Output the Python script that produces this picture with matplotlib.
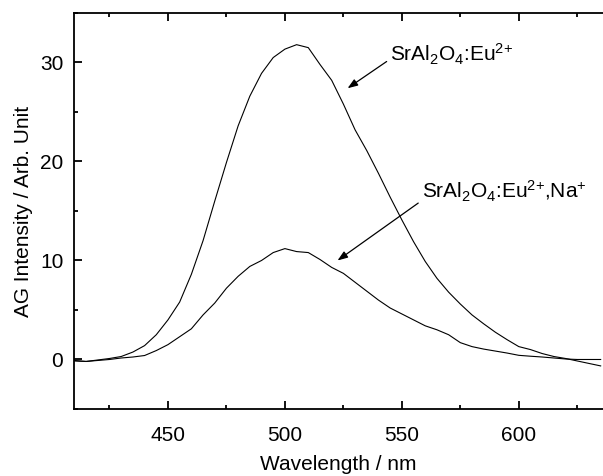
import numpy as np
import matplotlib
matplotlib.use('Agg')
import matplotlib.pyplot as plt
from matplotlib.ticker import MultipleLocator

plt.rcParams['font.family'] = ['Liberation Sans', 'DejaVu Sans']
plt.rcParams['mathtext.fontset'] = 'custom'
plt.rcParams['mathtext.rm'] = 'Liberation Sans'
plt.rcParams['mathtext.it'] = 'Liberation Sans:italic'

# wavelength grid (nm)
wavelength = np.arange(410, 640, 5)

# SrAl2O4:Eu2+
eu = [-0.15, -0.2, -0.05, 0.1, 0.3, 0.75, 1.4, 2.5, 4.0, 5.8,
      8.6, 12.0, 16.0, 19.9, 23.6, 26.6, 28.9, 30.5, 31.35, 31.8,
      31.5, 29.8, 28.2, 25.8, 23.2, 21.1, 18.8, 16.4, 14.1, 11.9,
      9.9, 8.2, 6.8, 5.6, 4.5, 3.6, 2.75, 2.0, 1.3, 1.0,
      0.6, 0.3, 0.1, -0.15, -0.4, -0.65]

# SrAl2O4:Eu2+,Na+
eu_na = [-0.1, -0.2, -0.1, 0.0, 0.15, 0.25, 0.4, 0.9, 1.5, 2.3,
         3.1, 4.5, 5.7, 7.2, 8.4, 9.4, 10.0, 10.8, 11.2, 10.9,
         10.8, 10.1, 9.3, 8.7, 7.8, 6.9, 6.0, 5.2, 4.6, 4.0,
         3.4, 3.0, 2.5, 1.7, 1.3, 1.05, 0.85, 0.65, 0.42, 0.33,
         0.25, 0.15, 0.05, 0.0, 0.0, 0.0]

label_eu = r'SrAl$_2$O$_4$:Eu$^{2{+}}$'
label_na = r'SrAl$_2$O$_4$:Eu$^{2{+}}$,Na$^{{+}}$'

fig = plt.figure(figsize=(6.03, 4.76), dpi=100)
ax = fig.add_axes([0.1234, 0.1408, 0.8766, 0.8319])

ax.plot(wavelength, eu, color='black', lw=0.8)
ax.plot(wavelength, eu_na, color='black', lw=0.8)

ax.set_xlim(410, 636)
ax.set_ylim(-5, 35)

ax.xaxis.set_major_locator(MultipleLocator(50))
ax.xaxis.set_minor_locator(MultipleLocator(25))
ax.yaxis.set_major_locator(MultipleLocator(10))
ax.yaxis.set_minor_locator(MultipleLocator(5))

ax.spines['right'].set_visible(False)
for s in ['left', 'bottom', 'top']:
    ax.spines[s].set_linewidth(1.3)

ax.tick_params(which='both', direction='in', top=True, right=False, width=1.3)
ax.tick_params(which='major', length=5.5)
ax.tick_params(which='minor', length=3)
ax.tick_params(axis='x', which='major', pad=12, labelsize=15)
ax.tick_params(axis='y', which='major', pad=8, labelsize=15)

ax.set_xlabel('Wavelength / nm', fontsize=15, labelpad=7.5)
ax.set_ylabel('AG Intensity / Arb. Unit', fontsize=15, labelpad=5)

arrow = dict(arrowstyle='-|>,head_length=0.6,head_width=0.22', color='black',
             lw=0.9, shrinkA=0, shrinkB=0, mutation_scale=10)
ax.annotate('', xy=(526.8, 27.4), xytext=(543.5, 30.1), arrowprops=arrow)
ax.text(545, 30.1, label_eu, fontsize=15, ha='left', va='baseline')
ax.annotate('', xy=(522.5, 10.0), xytext=(557.0, 15.8), arrowprops=arrow)
ax.text(558.5, 16.3, label_na, fontsize=15, ha='left', va='baseline')

fig.savefig('out.png', dpi=100)
